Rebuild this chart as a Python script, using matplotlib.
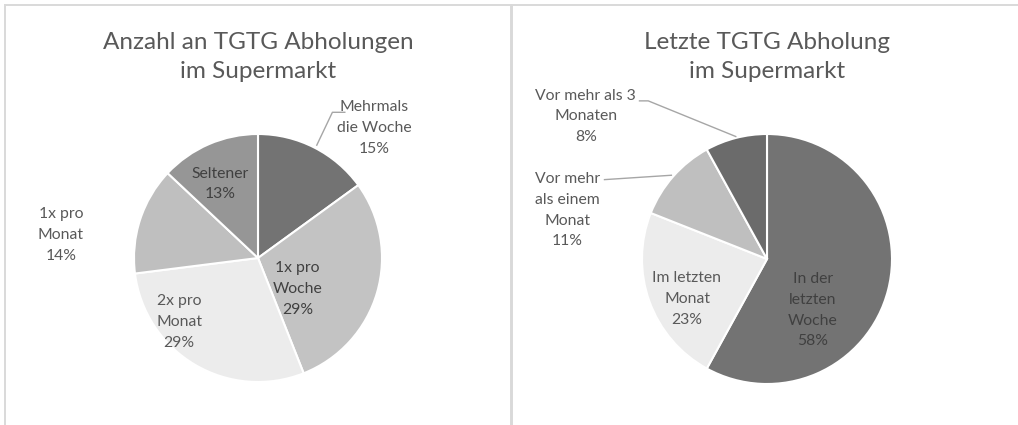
import matplotlib.pyplot as plt
from matplotlib.patches import Rectangle

plt.rcParams['font.family'] = ['Lato', 'DejaVu Sans']

# Daten: Anzahl an Abholungen
left_title = "Anzahl an TGTG Abholungen\nim Supermarkt"
left_labels = ["Mehrmals\ndie Woche", "1x pro\nWoche", "2x pro\nMonat", "1x pro\nMonat", "Seltener"]
left_values = [15, 29, 29, 14, 13]
left_colors = ["#737373", "#c3c3c3", "#ececec", "#bfbfbf", "#969696"]

# Daten: Letzte Abholung
right_title = "Letzte TGTG Abholung\nim Supermarkt"
right_labels = ["In der\nletzten\nWoche", "Im letzten\nMonat", "Vor mehr\nals einem\nMonat", "Vor mehr als 3\nMonaten"]
right_values = [58, 23, 11, 8]
right_colors = ["#737373", "#ececec", "#bfbfbf", "#6b6b6b"]

W, H = 1018, 425
fig = plt.figure(figsize=(W / 100, H / 100), dpi=100)
fig.patch.set_facecolor("white")

# Rahmen der beiden Diagramme (Pixel)
for x0, x1 in [(5, 511), (512, 1030)]:
    fig.patches.append(Rectangle((x0 / W, -0.05), (x1 - x0) / W, 1.05 - 5 / H,
                                 transform=fig.transFigure, fill=False,
                                 edgecolor="#d9d9d9", linewidth=1.4, zorder=0))


def make_pie(cx, cy, r, x0, x1, values, colors):
    # Achse ueber das ganze Panel, Einheit = Radius
    ax = fig.add_axes([x0 / W, 0, (x1 - x0) / W, 1])
    ax.pie(values, colors=colors, startangle=90, counterclock=False,
           wedgeprops=dict(edgecolor="white", linewidth=1.5))
    ax.set_xlim((x0 - cx) / r, (x1 - cx) / r)
    ax.set_ylim((cy - H) / r, cy / r)
    ax.set_aspect("auto")
    ax.axis("off")
    return ax


def txt(ax, x, y, s, color="#595959", size=11.3):
    ax.text(x, y, s, ha="center", va="center", color=color, fontsize=size,
            linespacing=1.62)


# linkes Diagramm
axl = make_pie(258, 258, 124, 5, 511, left_values, left_colors)
fig.text(258 / W, 1 - 57 / H, left_title, ha="center", va="center",
         fontsize=17.5, color="#595959", linespacing=1.5)
left_pos = [(0.94, 1.05), (0.32, -0.25), (-0.637, -0.516), (-1.59, 0.185), (-0.306, 0.597)]
left_txtcol = ["#595959", "#404040", "#595959", "#595959", "#404040"]
for lab, v, (x, y), c in zip(left_labels, left_values, left_pos, left_txtcol):
    txt(axl, x, y, f"{lab}\n{v}%", color=c)
axl.plot([0.474, 0.60, 0.70], [0.91, 1.175, 1.175], color="#a6a6a6", lw=1)

# rechtes Diagramm
axr = make_pie(767, 259, 125, 512, 1018, right_values, right_colors)
fig.text(767 / W, 1 - 57 / H, right_title, ha="center", va="center",
         fontsize=17.5, color="#595959", linespacing=1.5)
right_pos = [(0.365, -0.41), (-0.64, -0.32), (-1.595, 0.39), (-1.45, 1.14)]
right_txtcol = ["#404040", "#595959", "#595959", "#595959"]
for lab, v, (x, y), c in zip(right_labels, right_values, right_pos, right_txtcol):
    txt(axr, x, y, f"{lab}\n{v}%", color=c)
axr.plot([-0.25, -0.95, -1.02], [0.98, 1.265, 1.265], color="#a6a6a6", lw=1)
axr.plot([-0.765, -1.30], [0.67, 0.635], color="#a6a6a6", lw=1)

fig.savefig("out.png", dpi=100)
